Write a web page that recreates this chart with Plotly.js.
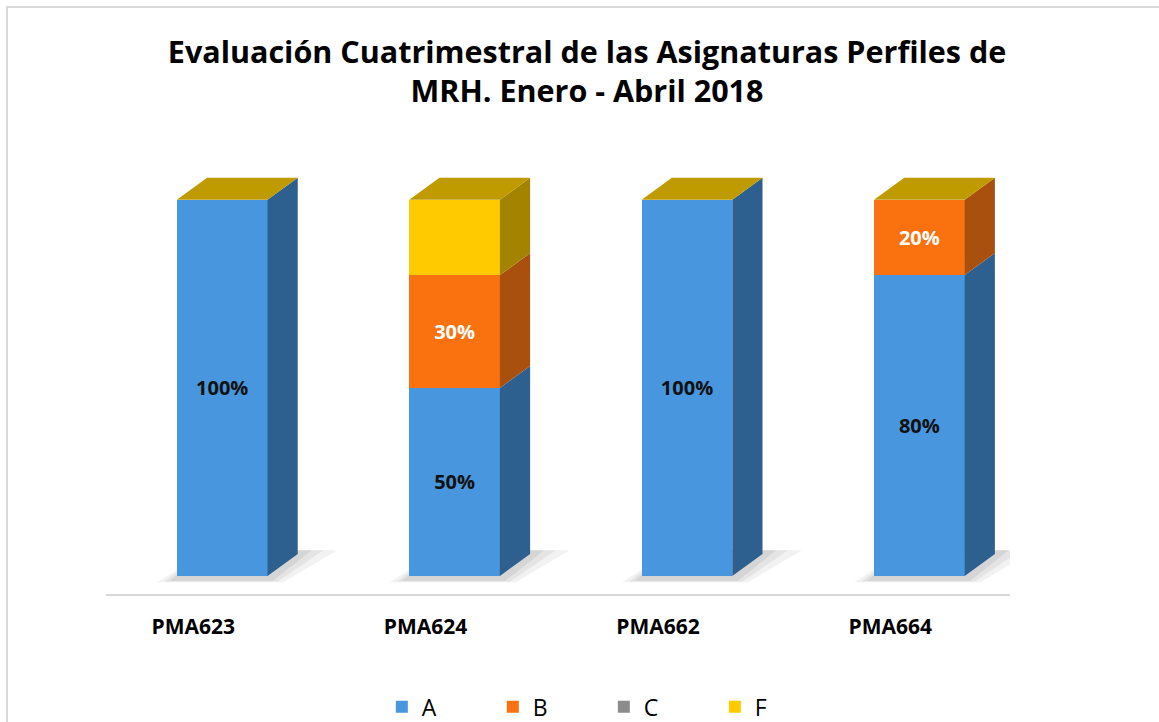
<!DOCTYPE html>
<html>
<head>
<meta charset="utf-8">
<script src="https://cdn.plot.ly/plotly-3.0.1.min.js"></script>
<style>html,body{margin:0;padding:0;background:#fff;}#chart{width:1159px;height:722px;}</style>
</head>
<body>
<div id="chart"></div>
<script>
// ---- data ----
const categories = ['PMA623', 'PMA624', 'PMA662', 'PMA664'];
const seriesNames = ['A', 'B', 'C', 'F'];
const valuesA = [100, 50, 100, 80];
const valuesB = [0, 30, 0, 20];
const valuesC = [0, 0, 0, 0];
const valuesF = [0, 20, 0, 0];

// ---- style ----
const frontColors = ['#4796DE', '#F9720F', '#8C8C8C', '#FFCB00'];
const sideColors  = ['#2D5F8F', '#A9500F', '#5E5E5E', '#A48300'];
const topColor = '#BF9B00';
const textColors = ['#111111', '#FFFFFF', '#FFFFFF', '#111111'];
const showText = [true, true, false, false];
const barWidth = 0.39;
const dx = 0.13;   // depth offset in category units
const dy = 5.85;   // depth offset in value units

const series = [valuesA, valuesB, valuesC, valuesF];
const idx = categories.map((c, i) => i);

const data = [];
const shapes = [];

// soft floor shadows as shapes below the traces
idx.forEach(i => {
  const xl = i - barWidth / 2, xr = i + barWidth / 2;
  [[0.17, 0.07], [0.11, 0.08], [0.06, 0.09]].forEach(([g, op]) => {
    const pts = [[xl - g * 0.5, -1.0 - g * 4], [xr + g * 0.4, -1.0 - g * 4],
                 [xr + dx + g, dy + 1], [xl + dx, dy + 1]];
    shapes.push({
      type: 'path', xref: 'x', yref: 'y', layer: 'below',
      path: 'M ' + pts.map(p => p[0] + ',' + p[1]).join(' L ') + ' Z',
      fillcolor: 'rgba(70,70,70,' + op + ')', line: {width: 0}
    });
  });
});

// side faces and top faces, computed from stacked values
idx.forEach(i => {
  const xl = i - barWidth / 2, xr = i + barWidth / 2;
  let base = 0;
  series.forEach((vals, s) => {
    const v = vals[i];
    if (v > 0) {
      const y0 = base, y1 = base + v;
      data.push({
        type: 'scatter', mode: 'lines', fill: 'toself', hoverinfo: 'skip', showlegend: false,
        x: [xr, xr + dx, xr + dx, xr, xr],
        y: [y0, y0 + dy, y1 + dy, y1, y0],
        line: {width: 0}, fillcolor: sideColors[s]
      });
    }
    base += v;
  });
  data.push({
    type: 'scatter', mode: 'lines', fill: 'toself', hoverinfo: 'skip', showlegend: false,
    x: [xl, xl + dx, xr + dx, xr, xl],
    y: [base, base + dy, base + dy, base, base],
    line: {width: 0}, fillcolor: topColor
  });
});

// front faces (stacked bars)
series.forEach((vals, s) => {
  data.push({
    type: 'bar', name: seriesNames[s], x: idx, y: vals, width: barWidth,
    marker: {color: frontColors[s], line: {width: 0}},
    text: vals.map(v => (showText[s] && v > 0) ? v + '%' : ''),
    textposition: 'inside', insidetextanchor: 'middle', constraintext: 'none',
    textfont: {family: 'Open Sans, sans-serif', size: 20, color: textColors[s], weight: 'bold'},
    hoverinfo: 'skip'
  });
});

// frame
shapes.push({
  type: 'path', xref: 'paper', yref: 'paper',
  path: 'M -0.1095,-0.35 L -0.1095,1.2516 L 1.2,1.2516',
  line: {color: '#D9D9D9', width: 2}
});

const layout = {
  width: 1159, height: 722,
  paper_bgcolor: '#fff', plot_bgcolor: 'rgba(0,0,0,0)',
  margin: {l: 106, r: 149, t: 125, b: 128, autoexpand: false},
  barmode: 'stack',
  title: {
    text: 'Evaluación Cuatrimestral de las Asignaturas Perfiles de<br>MRH. Enero - Abril 2018',
    x: 0.5065, xanchor: 'center', y: 0.913, yanchor: 'top',
    font: {family: 'Open Sans, sans-serif', size: 30.5, color: '#000', weight: 'bold'}
  },
  xaxis: {
    range: [-0.5, 3.39], tickmode: 'array', tickvals: idx, ticktext: categories,
    showgrid: false, zeroline: false, showline: true, linecolor: '#D9D9D9', linewidth: 2,
    ticks: '', ticklabelshift: -29, ticklabelstandoff: 13,
    tickfont: {family: 'Open Sans, sans-serif', size: 21, color: '#000', weight: 'bold'},
    fixedrange: true
  },
  yaxis: {
    range: [-4.79, 119.9], visible: false, showgrid: false, zeroline: false, fixedrange: true
  },
  legend: {
    orientation: 'h', xref: 'container', yref: 'container',
    x: 0.521, xanchor: 'center', y: 0.021, yanchor: 'middle',
    font: {family: 'Open Sans, sans-serif', size: 23, color: '#000'},
    entrywidth: 66, traceorder: 'normal'
  },
  shapes: shapes,
  showlegend: true
};

Plotly.newPlot('chart', data, layout, {displayModeBar: false, staticPlot: true});
</script>
</body>
</html>
